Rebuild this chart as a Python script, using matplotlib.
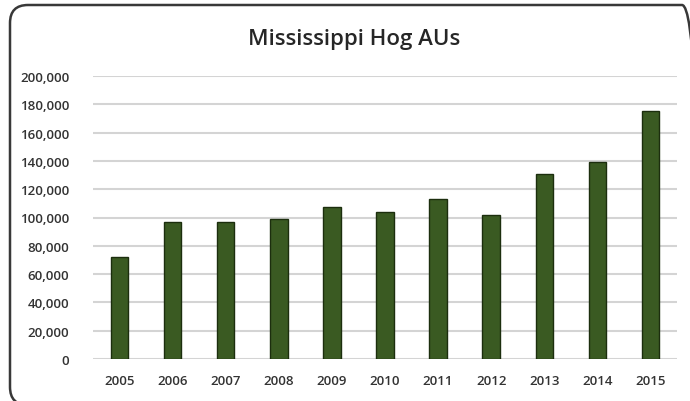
import matplotlib
matplotlib.use("Agg")
import matplotlib.pyplot as plt
from matplotlib.patches import FancyBboxPatch
from matplotlib.ticker import FuncFormatter, MultipleLocator

years = ["2005", "2006", "2007", "2008", "2009", "2010",
         "2011", "2012", "2013", "2014", "2015"]
hog_aus = [72000, 97000, 97000, 99000, 107500, 104000,
           113000, 102000, 130500, 139000, 175000]

title = "Mississippi Hog AUs"
bar_color = "#3a5a22"
edge_color = "#1c2e0e"
grid_color = "#d4d4d4"
text_color = "#333333"

W, H = 690, 402
fig = plt.figure(figsize=(W / 100, H / 100), dpi=100)
fig.patch.set_facecolor("white")

# rounded chart-area border, laid out in inches; right and bottom edges
# sit just past the canvas
border = FancyBboxPatch((0.10, -0.04), 6.90, 4.00,
                        boxstyle="round,pad=0,rounding_size=0.18",
                        transform=fig.dpi_scale_trans, facecolor="none",
                        edgecolor="#383838", linewidth=1.8)
fig.patches.append(border)

ax = fig.add_axes([93 / W, (H - 360) / H, 584 / W, 283 / H])
x = range(len(years))
ax.bar(x, hog_aus, width=0.33, color=bar_color, edgecolor=edge_color,
       linewidth=1.0, zorder=3)

ax.set_xlim(-0.5, len(years) - 0.5)
ax.set_ylim(0, 200000)
ax.yaxis.set_major_locator(MultipleLocator(20000))
ax.yaxis.set_major_formatter(FuncFormatter(lambda v, p: f"{int(v):,}"))
ax.set_xticks(list(x))
ax.set_xticklabels(years)

ax.grid(axis="y", color=grid_color, linewidth=1.5, zorder=0)
for s in ax.spines.values():
    s.set_visible(False)
ax.tick_params(axis="both", length=0, labelsize=9.5, labelcolor=text_color)
ax.tick_params(axis="y", pad=17)
ax.tick_params(axis="x", pad=11)
for lab in ax.get_xticklabels() + ax.get_yticklabels():
    lab.set_fontfamily("Open Sans")
    lab.set_fontweight("semibold")

fig.text(354 / W, 1 - 40 / H, title, ha="center", va="center",
         fontsize=16, fontfamily="Open Sans", fontweight="semibold",
         color="#262626")

fig.savefig("out.png", dpi=100)
